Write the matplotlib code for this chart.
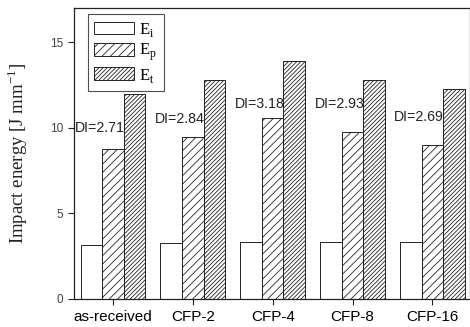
import matplotlib
matplotlib.use("Agg")
import matplotlib.pyplot as plt
import numpy as np

plt.rcParams['hatch.linewidth'] = 0.6
plt.rcParams['hatch.color'] = '#333333'

categories = ["as-received", "CFP-2", "CFP-4", "CFP-8", "CFP-16"]
E_i = [3.15, 3.28, 3.30, 3.30, 3.30]
E_p = [8.73, 9.47, 10.58, 9.76, 8.96]
E_t = [11.95, 12.77, 13.88, 12.77, 12.28]
di_labels = ["DI=2.71", "DI=2.84", "DI=3.18", "DI=2.93", "DI=2.69"]
# layout: vertical placement of DI annotations (data units)
di_label_y = [10.0, 10.5, 11.36, 11.36, 10.6]

fig = plt.figure(figsize=(4.7, 3.27), dpi=100)
ax = fig.add_axes([0.157, 0.086, 0.843, 0.89])

x = np.arange(len(categories))
w = 0.27
edge = '#222222'
ax.bar(x - w, E_i, w, facecolor='white', edgecolor=edge, linewidth=0.7, label=r'E$_\mathregular{i}$')
ax.bar(x, E_p, w, facecolor='white', edgecolor=edge, linewidth=0.7, hatch='////', label=r'E$_\mathregular{p}$')
ax.bar(x + w, E_t, w, facecolor='white', edgecolor=edge, linewidth=0.7, hatch='////////', label=r'E$_\mathregular{t}$')

for xi, lab, yy in zip(x, di_labels, di_label_y):
    ax.text(xi + 0.145, yy, lab, ha='right', va='center', fontsize=10.2,
            family='Liberation Sans', color='#222222')

ax.set_xlim(-0.49, 4.47)
ax.set_ylim(0, 17)
ax.set_xticks(x)
ax.set_xticklabels(categories, fontsize=11, family='Liberation Sans')
ax.set_yticks([0, 5, 10, 15])
ax.set_yticklabels(['0', '5', '10', '15'], fontsize=8.5, family='Liberation Sans', color='#444444')
ax.tick_params(axis='both', direction='out', length=4, width=0.8, color='#222222')
ax.tick_params(axis='x', pad=4)
for s in ax.spines.values():
    s.set_linewidth(0.9)
    s.set_color('#222222')

ax.set_ylabel(r'Impact energy [J mm$^{\mathregular{-1}}$]', fontsize=13.5,
              family='Liberation Serif', color='#222222')
ax.yaxis.set_label_coords(-0.11, 0.5)

leg = ax.legend(loc='upper left', bbox_to_anchor=(0.027, 0.99), frameon=True, fancybox=False,
                edgecolor='#222222', prop={'family': 'Liberation Serif', 'size': 12},
                handlelength=2.4, handleheight=0.8, handletextpad=0.3, labelspacing=0.2,
                borderpad=0.4, borderaxespad=0.2)
leg.get_frame().set_linewidth(0.8)

fig.savefig('out.png', dpi=100)
